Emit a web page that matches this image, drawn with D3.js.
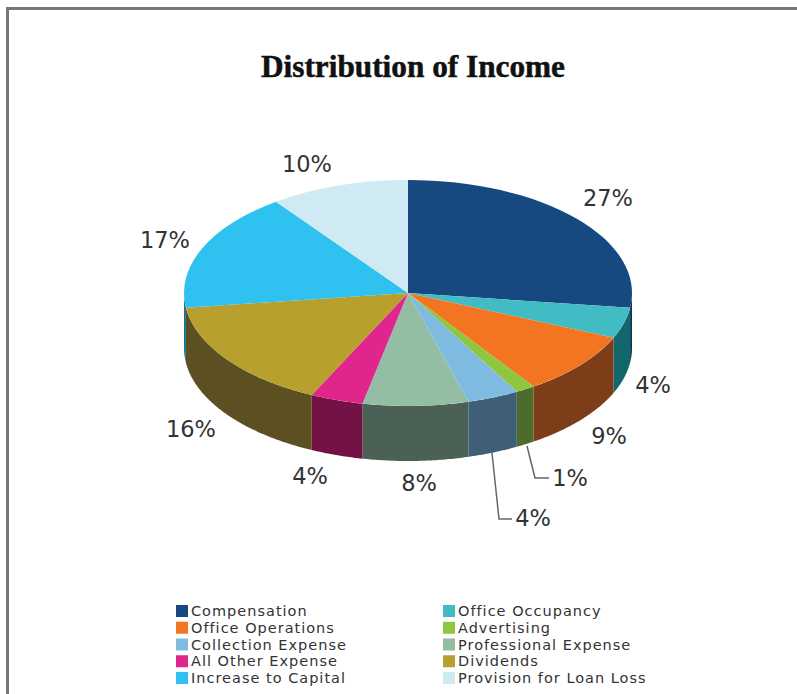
<!DOCTYPE html>
<html>
<head>
<meta charset="utf-8">
<script src="https://d3js.org/d3.v7.min.js"></script>
<style>
html, body { margin: 0; padding: 0; background: #fff; }
svg { display: block; }
</style>
</head>
<body>
<script>
var categories = ["Compensation", "Office Occupancy", "Office Operations", "Advertising", "Collection Expense",
	"Professional Expense", "All Other Expense", "Dividends", "Increase to Capital", "Provision for Loan Loss"];
var values = [27, 4.4, 9, 1.4, 3.7, 7.6, 3.8, 15.8, 17, 10];
var topColors = ["#16497f", "#41bcc4", "#f47521", "#8fc63f", "#7fbbe0", "#93bea3", "#e0258c", "#b8a02e", "#2fc1ef", "#cfeaf3"];
var sideColors = ["#0f3357", "#13666b", "#7c3d18", "#4d6b2a", "#3f5f78", "#4c6155", "#731244", "#5c5022", "#1e6f8a", "#7d9aa3"];

var width = 797, height = 694;
var cx = 408, cy = 293, rx = 224, ry = 113, depth = 55;

var svg = d3.select("body").append("svg")
	.attr("width", width)
	.attr("height", height);

// frame
svg.append("path")
	.attr("d", "M7.5,694V8.5H797")
	.attr("fill", "none")
	.attr("stroke", "#777")
	.attr("stroke-width", 3);

svg.append("text")
	.attr("x", 413)
	.attr("y", 77)
	.attr("text-anchor", "middle")
	.attr("font-family", "'Liberation Serif', serif")
	.attr("font-weight", "bold")
	.attr("font-size", "31px")
	.attr("stroke", "#111")
	.attr("stroke-width", 0.5)
	.attr("fill", "#111")
	.attr("textLength", 304)
	.attr("lengthAdjust", "spacingAndGlyphs")
	.text("Distribution of Income");

var slices = d3.pie().sort(null)(values);

var px = function(a) { return cx + rx * Math.sin(a); };
var py = function(a) { return cy - ry * Math.cos(a); };

var line = d3.line();

// side wall of one slice, only the part facing the viewer
function wall(d) {
	var a0 = Math.max(d.startAngle, Math.PI / 2), a1 = Math.min(d.endAngle, 3 * Math.PI / 2);
	if (a1 <= a0) return null;
	var angles = d3.range(a0, a1, 0.01).concat([a1]);
	var front = angles.map(function(a) { return [px(a), py(a)]; });
	var back = angles.slice().reverse().map(function(a) { return [px(a), py(a) + depth]; });
	return line(front.concat(back)) + "Z";
}

var pie = svg.append("g");

pie.selectAll("path.side")
	.data(slices)
	.enter()
	.append("path")
	.attr("class", "side")
	.attr("d", wall)
	.attr("fill", function(d, i) { return sideColors[i]; });

var arc = d3.arc().innerRadius(0).outerRadius(rx);

pie.append("g")
	.attr("transform", "translate(" + cx + "," + cy + ") scale(1," + (ry / rx) + ")")
	.selectAll("path.top")
	.data(slices)
	.enter()
	.append("path")
	.attr("class", "top")
	.attr("d", arc)
	.attr("fill", function(d, i) { return topColors[i]; });

// percent labels, placed by hand around the pie
var labelX = [608, 653, 609, 570, 533, 419, 310, 191, 165, 307];
var labelY = [198, 385, 436, 478, 518, 483, 476, 429, 240, 164];

svg.selectAll("text.pct")
	.data(values)
	.enter()
	.append("text")
	.attr("class", "pct")
	.attr("x", function(d, i) { return labelX[i]; })
	.attr("y", function(d, i) { return labelY[i]; })
	.attr("dy", "0.36em")
	.attr("text-anchor", "middle")
	.attr("font-family", "'DejaVu Sans', sans-serif")
	.attr("font-size", "22.5px")
	.attr("fill", "#333")
	.text(function(d) { return Math.round(d) + "%"; });

// leader lines for the two small slices
var leaders = [
	[[527, 446], [535, 478], [549, 478]],
	[[492, 453], [499, 519], [512, 519]]
];
svg.selectAll("path.leader")
	.data(leaders)
	.enter()
	.append("path")
	.attr("class", "leader")
	.attr("d", line)
	.attr("fill", "none")
	.attr("stroke", "#666")
	.attr("stroke-width", 1.5);

// legend
var col = d3.scalePoint().domain([0, 1]).range([176, 443]);
var row = d3.scalePoint().domain([0, 1, 2, 3, 4]).range([611, 678]);

var legend = svg.selectAll("g.legend")
	.data(categories)
	.enter()
	.append("g")
	.attr("class", "legend")
	.attr("transform", function(d, i) {
		return "translate(" + col(i % 2) + "," + row(Math.floor(i / 2)) + ")";
	});

legend.append("rect")
	.attr("y", -6)
	.attr("width", 12)
	.attr("height", 12)
	.attr("fill", function(d, i) { return topColors[i]; });

legend.append("text")
	.attr("x", 15)
	.attr("dy", "0.36em")
	.attr("font-family", "'DejaVu Sans', sans-serif")
	.attr("font-size", "14.5px")
	.attr("letter-spacing", "1px")
	.attr("fill", "#333")
	.text(function(d) { return d; });
</script>
</body>
</html>
